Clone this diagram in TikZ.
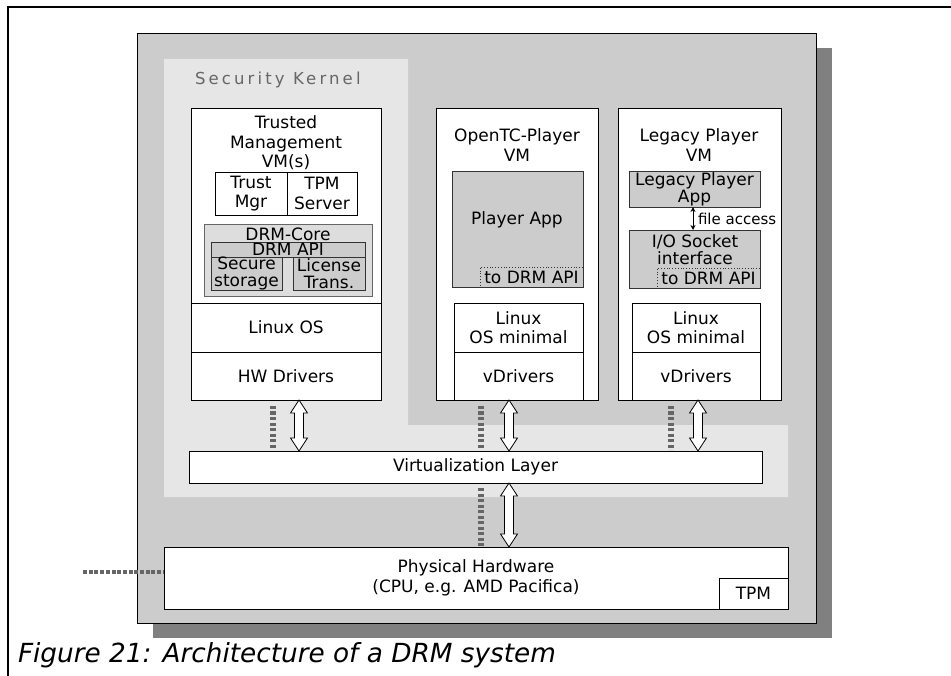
\documentclass[tikz,border=0pt]{standalone}
\usepackage{fontspec}
\setmainfont{DejaVu Sans}
\usetikzlibrary{calc,arrows.meta}
\definecolor{panel}{HTML}{CCCCCC}
\definecolor{kernel}{HTML}{E6E6E6}
\definecolor{dropgrey}{HTML}{808080}
\definecolor{dots}{HTML}{666666}
\definecolor{core}{HTML}{DDDDDD}
\definecolor{edge}{HTML}{333333}

% hollow double-headed arrow between two nodes, at the x of a coordinate
\newcommand\hollowarrow[3]{%
  \draw[fill=white, line width=0.8pt] let \p1=(#2.south -| #1), \p2=(#3.north -| #1) in
    (\x1,\y1) -- ++(8.5pt,-13pt) -- ++(-4pt,0pt) -- (\x1+4.5pt,\y2+13pt) -- ++(4pt,0pt)
    -- (\x2,\y2) -- ++(-8.5pt,13pt) -- ++(4pt,0pt) -- (\x1-4.5pt,\y1-13pt) -- ++(-4pt,0pt) -- cycle;}

\begin{document}
\begin{tikzpicture}[x=1pt,y=-1pt,
  every node/.style={font=\fontsize{17}{19.5}\selectfont, inner sep=0pt, outer sep=0pt, align=center},
  box/.style={draw, fill=white, line width=0.8pt, anchor=north west},
  greybox/.style={box, fill=panel, draw=edge},
  apibox/.style={box, fill=panel, draw=edge, dotted},
  tight/.style={font=\fontsize{17}{17}\selectfont},
  dotline/.style={draw=dots, line width=5.2pt, dash pattern=on 3.3pt off 2.2pt},
  dothoriz/.style={draw=dots, line width=4pt, dash pattern=on 4pt off 1.7pt}]
\useasboundingbox (0,0) rectangle (951,676);

% page frame
\draw[line width=1.2pt] (8,676) -- (8,7) -- (951,7);

% platform panel with drop shadow
\fill[dropgrey] (153,48) rectangle (832,638);
\draw[fill=panel, line width=1pt] (137,34) rectangle (816,623);

% security kernel area
\fill[kernel] (164,59) -- (408,59) -- (408,425) -- (788,425) -- (788,497) -- (164,497) -- cycle;
\node[anchor=west, text=dots, font=\fontsize{16.5}{19}\selectfont\addfontfeature{LetterSpace=19}] (sk) at (195,80) {Security Kernel};

% trusted management VM
\node[box, minimum width=190, minimum height=292] (tmvm) at (191,108) {};
\node (tmtitle) at (286,143) {Trusted\\Management\\VM(s)};
\node[box, minimum width=72, minimum height=43] (trust) at (215,172) {Trust\\Mgr};
\node[box, minimum width=70, minimum height=43] (tpms) at (287,172) {TPM\\Server};
\node[box, fill=core, draw=dots, minimum width=168, minimum height=72] (core) at (204,224) {};
\node (coretitle) at (288,234) {DRM-Core};
\node[greybox, minimum width=154, minimum height=15] (api) at (211,242) {DRM API};
\node[greybox, tight, minimum width=71, minimum height=33] (sec) at (211,257) {Secure\\storage};
\node[greybox, tight, minimum width=72, minimum height=33] (lic) at (293,257) {License\\Trans.};
\node[box, minimum width=190, minimum height=49] (tmos) at (191,303) {Linux OS};
\node[box, minimum width=190, minimum height=48] (tmdrv) at (191,352) {HW Drivers};

% OpenTC player VM
\node[box, minimum width=162, minimum height=292] (otc) at (436,108) {};
\node (otctitle) at (517,145) {OpenTC-Player\\VM};
\node[greybox, minimum width=131, minimum height=116] (papp) at (452,171) {};
\node (papptext) at (517,220) {Player App};
\node[apibox, minimum width=103, minimum height=20] (api1) at (480,267) {to DRM API};
\node[box, minimum width=129, minimum height=49] (os1) at (454,303) {Linux\\OS minimal};
\node[box, minimum width=129, minimum height=48] (drv1) at (454,352) {vDrivers};

% legacy player VM
\node[box, minimum width=163, minimum height=292] (leg) at (618,108) {};
\node (legtitle) at (699,145) {Legacy Player\\VM};
\node[greybox, tight, minimum width=131, minimum height=36] (lapp) at (629,171) {Legacy Player\\App};
\node[greybox, minimum width=131, minimum height=58] (sock) at (629,230) {};
\node[tight] (socktext) at (695,249.5) {I/O Socket\\interface};
\node[apibox, minimum width=103, minimum height=20] (api2) at (657,268) {to DRM API};
\node[box, minimum width=128, minimum height=49] (os2) at (632,303) {Linux\\OS minimal};
\node[box, minimum width=128, minimum height=48] (drv2) at (632,352) {vDrivers};

\coordinate (fa) at (693,0);
\draw[line width=1pt, {Stealth[length=5pt,width=5pt]}-{Stealth[length=5pt,width=5pt]}] (lapp.south -| fa) -- (sock.north -| fa);
\node[anchor=west, font=\fontsize{15}{18}\selectfont] (falabel) at (698,219) {file access};

% virtualization layer and hardware
\node[box, minimum width=573, minimum height=32] (vl) at (189,451) {Virtualization Layer};
\node[box, minimum width=624, minimum height=62] (ph) at (164,547) {Physical Hardware\\(CPU, e.g. AMD Pacifica)};
\node[box, minimum width=69, minimum height=31] (tpm) at (719,578) {TPM};

% connections
\coordinate (d1) at (273,0); \coordinate (a1) at (299,0);
\coordinate (d2) at (481,0); \coordinate (a2) at (509,0);
\coordinate (d3) at (671,0); \coordinate (a3) at (698,0);
\coordinate (hwend) at (83,572);

\draw[dotline] ([yshift=-6pt]tmvm.south -| d1) -- ([yshift=2pt]vl.north -| d1);
\draw[dotline] ([yshift=-6pt]otc.south -| d2) -- ([yshift=2pt]vl.north -| d2);
\draw[dotline] ([yshift=-6pt]leg.south -| d3) -- ([yshift=1pt]vl.north -| d3);
\draw[dotline] ([yshift=-5pt]vl.south -| d2) -- (ph.north -| d2);
\draw[dothoriz] (hwend) -- (hwend -| ph.west);

\hollowarrow{a1}{tmvm}{vl}
\hollowarrow{a2}{otc}{vl}
\hollowarrow{a3}{leg}{vl}
\hollowarrow{a2}{vl}{ph}

% caption
\node[anchor=base west, font=\fontsize{26.3}{30}\selectfont\itshape] (cap) at (18,662) {Figure 21: Architecture of a DRM system};
\end{tikzpicture}
\end{document}
